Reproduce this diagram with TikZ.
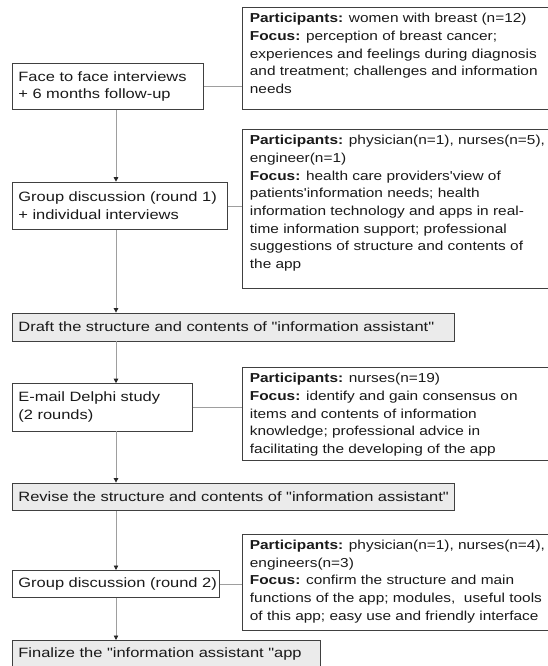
\documentclass[tikz,border=0pt]{standalone}
\usepackage{fontspec}
\usetikzlibrary{arrows.meta}
\newfontfamily\lfontfam[FakeStretch=1.22]{Liberation Sans}
\newfontfamily\rfontfam[FakeStretch=1.185]{Liberation Sans}
\newcommand{\lfont}{\lfontfam\fontsize{13.5}{17.7}\selectfont}
\newcommand{\rfont}{\rfontfam\fontsize{13}{17.7}\selectfont}
\newcommand{\rtext}[2]{\parbox[b][#1pt][t]{420pt}{\rfont\raggedright\vspace*{5.5pt}#2}}
\definecolor{bordercol}{gray}{0.25}
\definecolor{linecol}{gray}{0.62}
\definecolor{boxfill}{gray}{0.92}
\tikzset{
  lbox/.style={draw=bordercol, line width=0.8pt, anchor=north west, inner xsep=6.5pt, inner ysep=0pt, align=left, font=\lfont, text=black!90},
  shaded/.style={fill=boxfill},
  rbox/.style={draw=bordercol, line width=0.8pt, anchor=north west, inner xsep=7.5pt, inner ysep=0pt, text=black!90},
  flow/.style={draw=linecol, line width=0.8pt, -{Triangle[length=4.5pt,width=4.5pt,color=black!85]}},
  link/.style={draw=linecol, line width=0.8pt}
}
\begin{document}
\begin{tikzpicture}[x=1pt,y=-1pt]
\useasboundingbox (0,0) rectangle (548,666);
\clip (0,0) rectangle (548,666);
\coordinate (spine) at (116,0);
% left boxes
\node[lbox, text width=178.8pt, minimum height=46.6pt] (face) at (11.5,62.7)
  {\mbox{Face to face interviews}\\\mbox{+ 6 months follow-up}};
\node[lbox, text width=202.2pt, minimum height=47.6pt] (g1) at (11.5,181.7)
  {\mbox{Group discussion (round 1)}\\\mbox{+ individual interviews}};
\node[lbox, shaded, text width=429.5pt, minimum height=28pt] (draft) at (11.5,312.6)
  {\mbox{Draft the structure and contents of "information assistant"}};
\node[lbox, text width=167.5pt, minimum height=47.3pt] (email) at (11.5,383.2)
  {\mbox{E-mail Delphi study}\\\mbox{(2 rounds)}};
\node[lbox, shaded, text width=429.5pt, minimum height=27.4pt] (revise) at (11.5,482.6)
  {\mbox{Revise the structure and contents of "information assistant"}};
\node[lbox, text width=194.5pt, minimum height=27.2pt] (g2) at (11.5,570)
  {\mbox{Group discussion (round 2)}};
\node[lbox, shaded, text width=295.5pt, minimum height=28pt] (final) at (11.5,640)
  {\mbox{Finalize the "information assistant "app}};
% right boxes
\node[rbox] (r1) at (242,7.3) {\rtext{102}{%
\mbox{\textbf{Participants:} women with breast (n=12)}\\
\mbox{\textbf{Focus:} perception of breast cancer;}\\
\mbox{experiences and feelings during diagnosis}\\
\mbox{and treatment; challenges and information}\\
\mbox{needs}}};
\node[rbox] (r2) at (242,129.3) {\rtext{159}{%
\mbox{\textbf{Participants:} physician(n=1), nurses(n=5),}\\
\mbox{engineer(n=1)}\\
\mbox{\textbf{Focus:} health care providers'view of}\\
\mbox{patients'information needs; health}\\
\mbox{information technology and apps in real-}\\
\mbox{time information support; professional}\\
\mbox{suggestions of structure and contents of}\\
\mbox{the app}}};
\node[rbox] (r3) at (242,367.3) {\rtext{92.5}{%
\mbox{\textbf{Participants:} nurses(n=19)}\\
\mbox{\textbf{Focus:} identify and gain consensus on}\\
\mbox{items and contents of information}\\
\mbox{knowledge; professional advice in}\\
\mbox{facilitating the developing of the app}}};
\node[rbox] (r4) at (242,534) {\rtext{95.8}{%
\mbox{\textbf{Participants:} physician(n=1), nurses(n=4),}\\
\mbox{engineers(n=3)}\\
\mbox{\textbf{Focus:} confirm the structure and main}\\
\mbox{functions of the app; modules,~ useful tools}\\
\mbox{of this app; easy use and friendly interface}}};
% vertical flow
\draw[flow] (face.south -| spine) -- (g1.north -| spine);
\draw[flow] (g1.south -| spine) -- (draft.north -| spine);
\draw[flow] (draft.south -| spine) -- (email.north -| spine);
\draw[flow] (email.south -| spine) -- (revise.north -| spine);
\draw[flow] (revise.south -| spine) -- (g2.north -| spine);
\draw[flow] (g2.south -| spine) -- (final.north -| spine);
% side links
\draw[link] (face.east) -- (face.east -| r1.west);
\draw[link] (g1.east) -- (g1.east -| r2.west);
\draw[link] (email.east) -- (email.east -| r3.west);
\draw[link] (g2.east) -- (g2.east -| r4.west);
\end{tikzpicture}
\end{document}
